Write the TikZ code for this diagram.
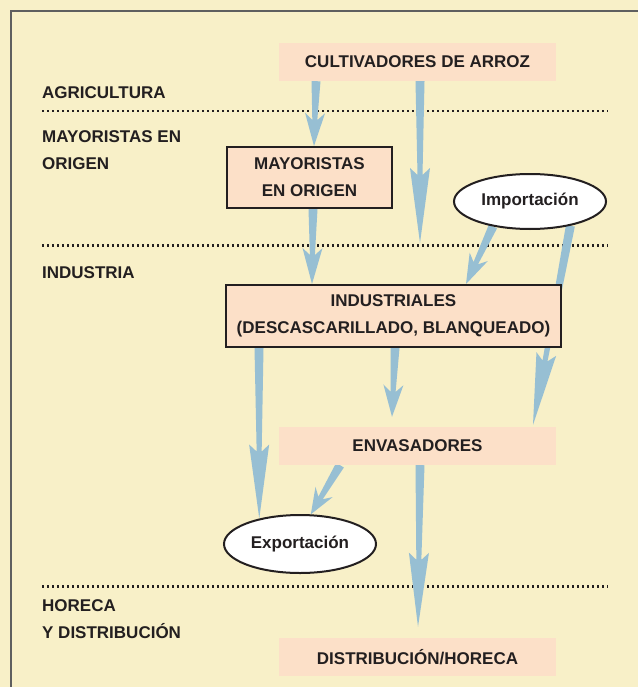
\documentclass[tikz,border=0pt]{standalone}
\usepackage{fontspec}
\setmainfont{Liberation Sans}
\usetikzlibrary{calc,shapes.geometric}
\definecolor{fondo}{HTML}{F8F0C8}
\definecolor{melocoton}{HTML}{FCE0C8}
\definecolor{flujo}{HTML}{97BFD3}
\definecolor{tinta}{HTML}{231F20}
\definecolor{marco}{HTML}{5F5F5F}
\pgfdeclarelayer{atras}
\pgfsetlayers{atras,main}
\def\flecha[#1](#2)(#3){\pgfmathsetmacro\lcab{#1}\pgfmathsetmacro\lmue{#1-7}%
  \fill[color=flujo] ($(#2)!4.5pt!90:(#3)$) -- ($(#3)!\lmue pt!(#2)!2.5pt!-90:(#2)$) -- ($(#3)!\lcab pt!(#2)!10pt!-90:(#2)$) -- (#3) -- ($(#3)!\lcab pt!(#2)!10pt!90:(#2)$) -- ($(#3)!\lmue pt!(#2)!2.5pt!90:(#2)$) -- ($(#2)!4.5pt!-90:(#3)$) -- cycle;}

\begin{document}
\begin{tikzpicture}[x=1pt, y=-1pt,
    every node/.style={font=\fontsize{17}{27}\selectfont\bfseries, text=tinta},
    caja/.style={fill=melocoton, minimum width=277pt, minimum height=38pt, inner sep=0pt, align=center},
    borde/.style={draw=tinta, line width=2pt},
    elipse/.style={ellipse, draw=tinta, line width=2pt, fill=white, minimum width=152pt, minimum height=55pt, inner sep=0pt},
    etiqueta/.style={inner sep=0pt, align=left},
    punteado/.style={line width=2.2pt, dash pattern=on 2.2pt off 2.8pt, color=tinta}]
			%%%%% START %%%%%
			
			\useasboundingbox (0,0) rectangle (638,687);
			\begin{pgfonlayer}{atras}
			\fill[fondo] (0,0) rectangle (638,687);
			\draw[line width=2pt, color=marco] (11,687) -- (11,11) -- (638,11);
			
			\draw[punteado] (42,111) -- (608,111);
			\draw[punteado] (42,245.5) -- (608,245.5);
			\draw[punteado] (42,586.5) -- (608,586.5);
			\end{pgfonlayer}
			
			\node[etiqueta, anchor=base west] (agri) at (42,98.5) {AGRICULTURA};
			\node[etiqueta, anchor=north west] (mayor) at (42,130.5) {MAYORISTAS EN\\ORIGEN};
			\node[etiqueta, anchor=base west] (indu) at (42,278.5) {INDUSTRIA};
			\node[etiqueta, anchor=north west] (hore) at (42,599.5) {HORECA\\Y DISTRIBUCIÓN};
			
			\node[caja] (cult) at (417.5,62) {CULTIVADORES DE ARROZ};
			\node[caja, borde, minimum width=165pt, minimum height=61pt] (mayo) at (309.5,177.5) {MAYORISTAS\\EN ORIGEN};
			\node[elipse] (imp) at (530,201.5) {Importación};
			\node[caja, borde, minimum width=335pt, minimum height=62pt] (ind) at (393.5,316) {INDUSTRIALES\\(DESCASCARILLADO, BLANQUEADO)};
			\node[caja] (env) at (417.5,446) {ENVASADORES};
			\node[elipse, minimum height=58pt] (exp) at (300,544) {Exportación};
			\node[caja] (dist) at (417.5,657) {DISTRIBUCIÓN/HORECA};
			
			\coordinate (c1) at ([xshift=-101.5pt]cult.south);
			\coordinate (c2) at ([xshift=2.5pt]cult.south);
			\coordinate (m1) at ([xshift=4.5pt]mayo.north);
			\coordinate (m2) at ([xshift=3.5pt]mayo.south);
			\coordinate (i1) at ([xshift=-81.5pt]ind.north);
			\coordinate (i2) at ([xshift=72.5pt]ind.north);
			\coordinate (i3) at ([xshift=-134.5pt]ind.south);
			\coordinate (i4) at ([xshift=1.5pt]ind.south);
			\coordinate (e1) at ([xshift=115.5pt,yshift=2pt]env.north);
			\coordinate (e2) at ([xshift=-25.5pt,yshift=10pt]env.north);
			\coordinate (e3) at ([xshift=-77.5pt]env.south);
			\coordinate (e4) at ([xshift=2.5pt]env.south);
			\coordinate (d1) at ([xshift=0.5pt,yshift=11pt]dist.north);
			\coordinate (t2) at (420,243);
			
			\begin{pgfonlayer}{atras}
			\flecha[33](c1)(m1)
			\flecha[75](c2)(t2)
			\flecha[36](m2)(i1)
			\flecha[30](imp.214)(i2)
			\flecha[72](imp.-31)(e1)
			\flecha[74](i3)(exp.148)
			\flecha[32](i4)(e2)
			\flecha[26](e3)(exp.70)
			\flecha[74](e4)(d1)
			\end{pgfonlayer}
			
			%%%%% END %%%%%
\end{tikzpicture}
\end{document}
